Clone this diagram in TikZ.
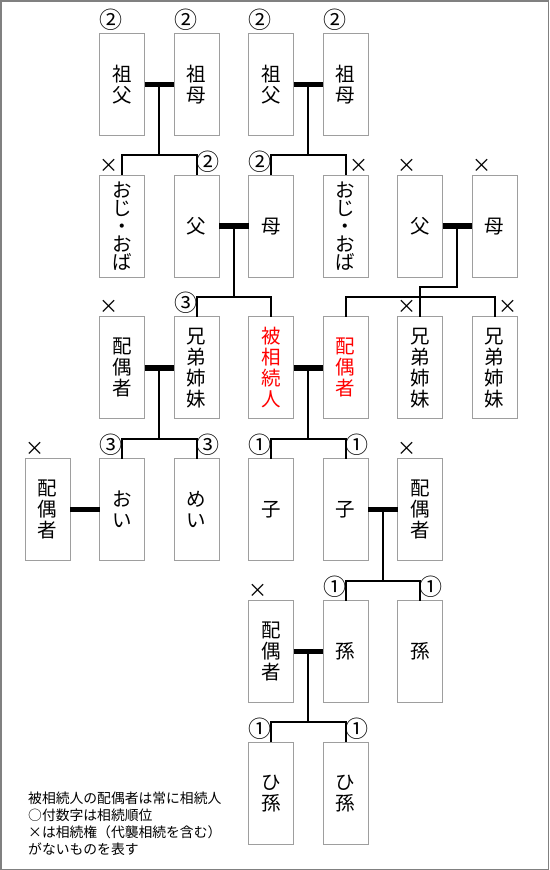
\documentclass[tikz,border=0pt]{standalone}
\usepackage{fontspec}
\setmainfont{Noto Sans CJK JP}
\usetikzlibrary{positioning,calc}

\begin{document}
\begin{tikzpicture}[
  x=1pt,
  y=-1pt,
  font=\fontsize{19.5}{21}\selectfont,
  person/.style={
    draw=black!38,
    line width=1pt,
    minimum width=45pt,
    minimum height=102pt,
    align=center,
    inner sep=0pt,
    outer sep=0pt
  },
  heir/.style={
    person,
    text=red
  },
  kana box/.style={
    person,
    font=\fontsize{19.5}{18}\selectfont
  },
  spouse bar/.style={
    draw=black,
    line width=5.5pt
  },
  kin line/.style={
    draw=black,
    line width=2pt
  },
  rank/.style={
    font=\fontsize{23}{23}\selectfont,
    inner sep=0pt,
    outer sep=0pt
  },
  cross/.style={
    font=\fontsize{19}{19}\selectfont
  },
  rank left/.style={rank,anchor=south west,yshift=3pt},
  rank right/.style={rank,anchor=south east,yshift=3pt}
]
\useasboundingbox (0,0) rectangle (549,870);
\draw[draw=black!50,line width=1.5pt] (0.75,0.75) rectangle (548.25,869.25);

% grandparents
\node[person] (gf1) at (122,84.3) {祖\\父};
\node[person,right=29.5pt of gf1] (gm1) {祖\\母};
\node[person,right=29.5pt of gm1] (gf2) {祖\\父};
\node[person,right=29.5pt of gf2] (gm2) {祖\\母};

% parents
\node[kana box,below=39.8pt of gf1] (uncle1) {お\\じ\\・\\お\\ば};
\node[person,right=29.5pt of uncle1] (father) {父};
\node[person,right=29.5pt of father] (mother) {母};
\node[kana box,right=29.5pt of mother] (uncle2) {お\\じ\\・\\お\\ば};
\node[person,right=29.5pt of uncle2] (sfather) {父};
\node[person,right=29.5pt of sfather] (smother) {母};

% deceased and siblings
\node[person,below=39.8pt of uncle1] (sp1) {配\\偶\\者};
\node[person,right=29.5pt of sp1] (sib1) {兄\\弟\\姉\\妹};
\node[heir,right=29.5pt of sib1] (deceased) {被\\相\\続\\人};
\node[heir,right=29.5pt of deceased] (spouse) {配\\偶\\者};
\node[person,right=29.5pt of spouse] (sib2) {兄\\弟\\姉\\妹};
\node[person,right=29.5pt of sib2] (sib3) {兄\\弟\\姉\\妹};

% children, nephews
\node[person,below=39.8pt of sp1] (nephew) {お\\い};
\node[person,left=29.5pt of nephew] (sp2) {配\\偶\\者};
\node[person,right=29.5pt of nephew] (niece) {め\\い};
\node[person,right=29.5pt of niece] (child1) {子};
\node[person,right=29.5pt of child1] (child2) {子};
\node[person,right=29.5pt of child2] (sp3) {配\\偶\\者};

% grandchildren
\node[person,below=39.8pt of child1] (sp4) {配\\偶\\者};
\node[person,right=29.5pt of sp4] (gc1) {孫};
\node[person,right=29.5pt of gc1] (gc2) {孫};

\node[person,below=39.8pt of sp4] (ggc1) {ひ\\孫};
\node[person,right=29.5pt of ggc1] (ggc2) {ひ\\孫};

% rank marks
\node[rank left] (gf1-rank) at (gf1.north west) {②};
\node[rank left] (gm1-rank) at (gm1.north west) {②};
\node[rank left] (gf2-rank) at (gf2.north west) {②};
\node[rank left] (gm2-rank) at (gm2.north west) {②};
\node[rank left,cross] (uncle1-rank) at (uncle1.north west) {×};
\node[rank right] (father-rank) at (father.north east) {②};
\node[rank left] (mother-rank) at (mother.north west) {②};
\node[rank right,cross] (uncle2-rank) at (uncle2.north east) {×};
\node[rank left,cross] (sfather-rank) at (sfather.north west) {×};
\node[rank left,cross] (smother-rank) at (smother.north west) {×};
\node[rank left,cross] (sp1-rank) at (sp1.north west) {×};
\node[rank left] (sib1-rank) at (sib1.north west) {③};
\node[rank left,cross] (sib2-rank) at (sib2.north west) {×};
\node[rank right,cross] (sib3-rank) at (sib3.north east) {×};
\node[rank left,cross] (sp2-rank) at (sp2.north west) {×};
\node[rank left] (nephew-rank) at (nephew.north west) {③};
\node[rank right] (niece-rank) at (niece.north east) {③};
\node[rank left] (child1-rank) at (child1.north west) {①};
\node[rank right] (child2-rank) at (child2.north east) {①};
\node[rank left,cross] (sp3-rank) at (sp3.north west) {×};
\node[rank left,cross] (sp4-rank) at (sp4.north west) {×};
\node[rank left] (gc1-rank) at (gc1.north west) {①};
\node[rank right] (gc2-rank) at (gc2.north east) {①};
\node[rank left] (ggc1-rank) at (ggc1.north west) {①};
\node[rank right] (ggc2-rank) at (ggc2.north east) {①};

% marriages
\draw[spouse bar] (gf1.east) -- (gm1.west);
\draw[spouse bar] (gf2.east) -- (gm2.west);
\draw[spouse bar] (father.east) -- (mother.west);
\draw[spouse bar] (sfather.east) -- (smother.west);
\draw[spouse bar] (sp1.east) -- (sib1.west);
\draw[spouse bar] (deceased.east) -- (spouse.west);
\draw[spouse bar] (sp2.east) -- (nephew.west);
\draw[spouse bar] (child2.east) -- (sp3.west);
\draw[spouse bar] (sp4.east) -- (gc1.west);

\coordinate (fam-gp1) at ($(gf1.east)!.5!(gm1.west)$);
\coordinate (fam-gp2) at ($(gf2.east)!.5!(gm2.west)$);
\coordinate (fam-par) at ($(father.east)!.5!(mother.west)$);
\coordinate (fam-spar) at ($(sfather.east)!.5!(smother.west)$);
\coordinate (fam-sib) at ($(sp1.east)!.5!(sib1.west)$);
\coordinate (fam-dec) at ($(deceased.east)!.5!(spouse.west)$);
\coordinate (fam-child) at ($(child2.east)!.5!(sp3.west)$);
\coordinate (fam-gc) at ($(sp4.east)!.5!(gc1.west)$);

% descent lines
\draw[kin line] (uncle1.north) -- ++(0,-20) -| (father.north);
\draw[kin line] (fam-gp1) -- ($(fam-gp1 |- uncle1.north)+(0,-20)$);
\draw[kin line] (mother.north) -- ++(0,-20) -| (uncle2.north);
\draw[kin line] (fam-gp2) -- ($(fam-gp2 |- mother.north)+(0,-20)$);
\draw[kin line] (sib1.north) -- ++(0,-20) -| (deceased.north);
\draw[kin line] (fam-par) -- ($(fam-par |- sib1.north)+(0,-20)$);
\draw[kin line] (spouse.north) -- ++(0,-20) -| (sib3.north);
\draw[kin line] (sib2.north) -- ++(0,-30) -| (fam-spar);
\draw[kin line] (nephew.north) -- ++(0,-20) -| (niece.north);
\draw[kin line] (fam-sib) -- ($(fam-sib |- nephew.north)+(0,-20)$);
\draw[kin line] (child1.north) -- ++(0,-20) -| (child2.north);
\draw[kin line] (fam-dec) -- ($(fam-dec |- child1.north)+(0,-20)$);
\draw[kin line] (gc1.north) -- ++(0,-20) -| (gc2.north);
\draw[kin line] (fam-child) -- ($(fam-child |- gc1.north)+(0,-20)$);
\draw[kin line] (ggc1.north) -- ++(0,-20) -| (ggc2.north);
\draw[kin line] (fam-gc) -- ($(fam-gc |- ggc1.north)+(0,-20)$);

\node[anchor=north west,align=left,inner sep=0pt,
  font=\fontsize{13.8}{17}\selectfont] (legend) at (28,792) {
  被相続人の配偶者は常に相続人\\
  ○付数字は相続順位\\
  ×は相続権（代襲相続を含む）\\
  がないものを表す
};

\end{tikzpicture}
\end{document}
